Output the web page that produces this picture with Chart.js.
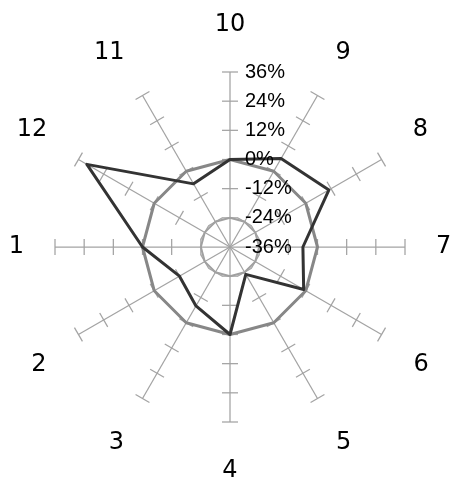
<!DOCTYPE html>
<html>
<head>
<meta charset="utf-8">
<script src="https://cdn.jsdelivr.net/npm/chart.js@4"></script>
<style>
  html, body { margin: 0; padding: 0; background: #fff; }
  #wrap { width: 452px; height: 479px; }
</style>
</head>
<body>
<div id="wrap"><canvas id="radarChart"></canvas></div>
<script>
// Netzdiagramm mit 12 Kategorien, Werte in Prozent

const categories = ['10', '9', '8', '7', '6', '5', '4', '3', '2', '1', '12', '11'];
const darkValues = [0, 6, 11, -6, -1, -23, 0, -8, -12, 0, 32, -6];
const grayValues = [0, 0, 0, 0, 0, 0, 0, 0, 0, 0, 0, 0];
const innerValues = [-24, -24, -24, -24, -24, -24, -24, -24, -24, -24, -24, -24];
const tickValues = [-36, -24, -12, 0, 12, 24, 36];

const axisColor = '#a3a3a3';

// Achsenstriche und Beschriftungen wie in Excel
const axisTicks = {
  id: 'axisTicks',
  beforeDatasetsDraw(chart) {
    const scale = chart.scales.r;
    const ctx = chart.ctx;
    ctx.save();
    ctx.strokeStyle = axisColor;
    ctx.lineWidth = 1.25;
    for (let i = 0; i < categories.length; i++) {
      const a = scale.getIndexAngle(i) - Math.PI / 2;
      const nx = -Math.sin(a), ny = Math.cos(a);
      tickValues.slice(1).forEach(v => {
        const p = scale.getPointPositionForValue(i, v);
        ctx.beginPath();
        ctx.moveTo(p.x - nx * 8, p.y - ny * 8);
        ctx.lineTo(p.x + nx * 8, p.y + ny * 8);
        ctx.stroke();
      });
    }
    ctx.restore();
  },
  afterDatasetsDraw(chart) {
    const scale = chart.scales.r;
    const ctx = chart.ctx;
    ctx.save();
    ctx.fillStyle = '#000';
    ctx.font = '20px "Liberation Sans", Arial, sans-serif';
    ctx.textAlign = 'left';
    ctx.textBaseline = 'middle';
    tickValues.forEach(v => {
      const y = scale.yCenter - scale.getDistanceFromCenterForValue(v);
      ctx.fillText(v + '%', scale.xCenter + 15, y);
    });
    ctx.restore();
  }
};

// Abstand der Kategorienamen (oben, unten, seitlich, schraeg)
function labelPadding(ctx) {
  const i = ctx.index;
  if (i === 0) return 36.6;
  if (i === 6) return 41;
  if (i === 3 || i === 9) return 31;
  if (i >= 4 && i <= 8) return 37;
  return 36;
}

function labelFont(ctx) {
  const i = ctx.index;
  let lh = 1;
  if (i === 0) lh = 0.85;
  if (i === 6) lh = 0.666;
  return { family: '"DejaVu Sans", Verdana, sans-serif', size: 24, lineHeight: lh };
}

function drawRadar() {
  new Chart(document.getElementById('radarChart'), {
    type: 'radar',
    data: {
      labels: categories,
      datasets: [{
        data: darkValues,
        borderColor: '#333333',
        borderWidth: 3,
        fill: false,
        pointRadius: 0,
        borderJoinStyle: 'round'
      }, {
        data: grayValues,
        borderColor: '#878787',
        borderWidth: 3,
        fill: false,
        pointRadius: 0,
        borderJoinStyle: 'round'
      }, {
        data: innerValues,
        borderColor: '#a0a0a0',
        borderWidth: 2,
        fill: false,
        pointRadius: 0
      }]
    },
    options: {
      responsive: true,
      maintainAspectRatio: false,
      animation: false,
      layout: { padding: { left: 8, right: -2, top: 15, bottom: 0 } },
      plugins: { legend: { display: false }, tooltip: { enabled: false } },
      scales: {
        r: {
          min: -36,
          max: 36,
          ticks: { stepSize: 12, display: false },
          grid: { display: false },
          angleLines: { color: axisColor, lineWidth: 1.25 },
          pointLabels: {
            color: '#000',
            font: labelFont,
            padding: labelPadding
          }
        }
      }
    },
    plugins: [axisTicks]
  });
}

drawRadar();
</script>
</body>
</html>
